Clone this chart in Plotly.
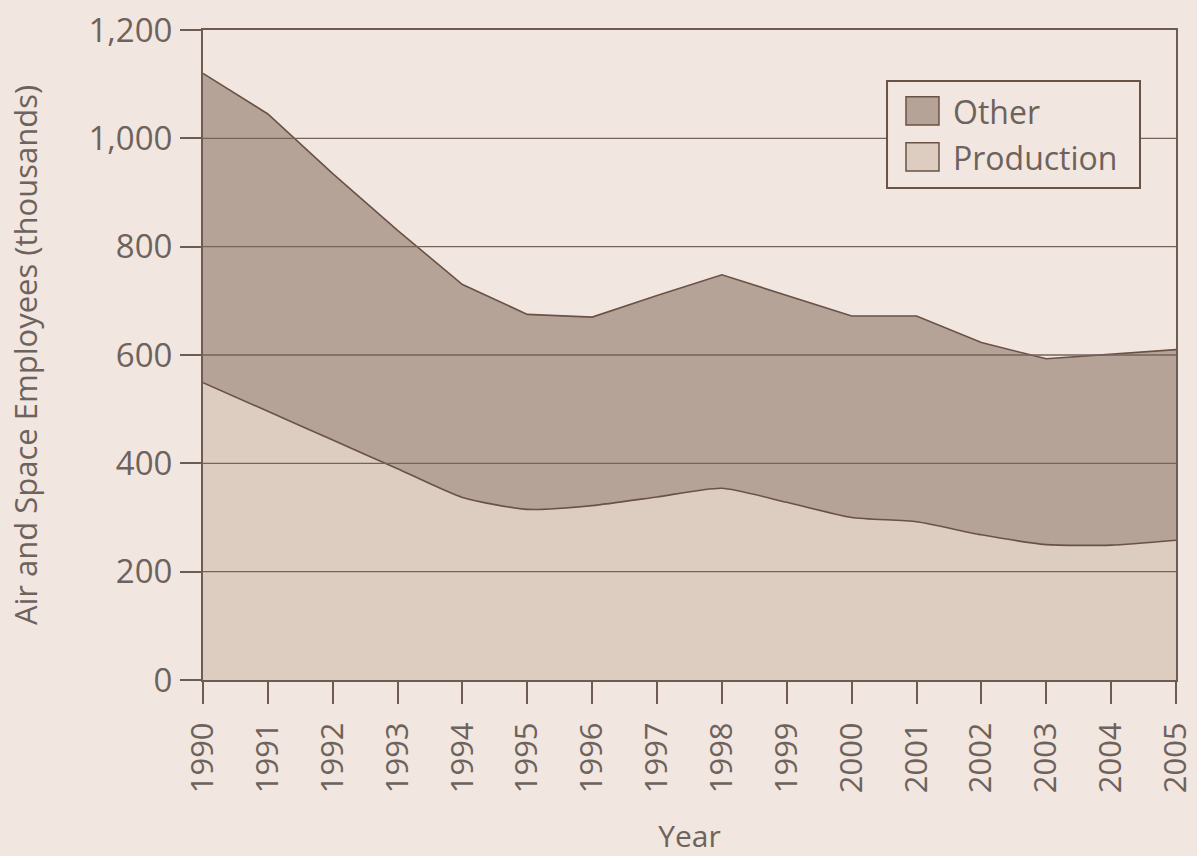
import plotly.graph_objects as go

years = list(range(1990, 2006))
production = [549, 496, 443, 390, 337, 315, 322, 338, 354, 328, 300, 292, 268, 250, 249, 258]
total = [1120, 1045, 935, 830, 730, 675, 670, 710, 748, 710, 672, 672, 623, 593, 601, 610]
y_ticks = [0, 200, 400, 600, 800, 1000, 1200]
y_labels = ["0", "200", "400", "600", "800", "1,000", "1,200"]
legend_names = ["Other", "Production"]

BG = "#f2e6e0"
OTHER = "#b4a396"
PROD = "#ddccc0"
LINE = "#6a5246"
AXIS = "#6e5c52"
TEXT = "#6d625c"
FONT = "Open Sans"

fig = go.Figure()
fig.add_trace(go.Scatter(x=years, y=production, mode="lines", fill="tozeroy",
                         fillcolor=PROD, line=dict(color=LINE, width=1.6, shape="spline", smoothing=0.6),
                         name="Production", showlegend=False, hoverinfo="skip"))
fig.add_trace(go.Scatter(x=years, y=total, mode="lines", fill="tonexty",
                         fillcolor=OTHER, line=dict(color=LINE, width=1.6),
                         name="Other", showlegend=False, hoverinfo="skip"))

for v in y_ticks[1:-1]:
    fig.add_hline(y=v, line=dict(color="#76635a", width=1.3), layer="above")

# legend box (drawn manually for large swatches)
fig.add_shape(type="rect", xref="paper", yref="paper", x0=0.703, x1=0.963, y0=0.757, y1=0.9215,
              fillcolor=BG, line=dict(color=LINE, width=2), layer="above")
sw = [(0.8538, 0.8974, 0.875), (0.7831, 0.8266, 0.8046)]
for (y0, y1, yc), nm, col in zip(sw, legend_names, [OTHER, PROD]):
    fig.add_shape(type="rect", xref="paper", yref="paper", x0=0.7225, x1=0.7564, y0=y0, y1=y1,
                  fillcolor=col, line=dict(color=LINE, width=1.5), layer="above")
    fig.add_annotation(xref="paper", yref="paper", x=0.769, y=yc, text=nm, showarrow=False,
                       xanchor="left", yanchor="middle", font=dict(size=32, color=TEXT, family=FONT))

fig.update_layout(
    width=1197, height=856,
    margin=dict(l=203, r=21, t=30, b=176, autoexpand=False),
    paper_bgcolor=BG, plot_bgcolor=BG,
    font=dict(family=FONT, color=TEXT, size=24),
    showlegend=False,
)
fig.update_xaxes(range=[1990, 2005], tickmode="array", tickvals=years,
                 ticktext=[str(y) for y in years], tickangle=-90,
                 ticks="outside", ticklen=22, tickcolor=AXIS, tickwidth=1.5,
                 ticklabelstandoff=6, automargin=False,
                 showline=True, linecolor=AXIS, linewidth=2, mirror=True,
                 showgrid=False, zeroline=False,
                 tickfont=dict(size=31, color=TEXT),
                 title=dict(text="Year", font=dict(size=30, color=TEXT), standoff=44))
fig.update_yaxes(range=[0, 1200], tickmode="array", tickvals=y_ticks, ticktext=y_labels,
                 ticks="outside", ticklen=21, tickcolor=AXIS, tickwidth=1.5,
                 ticklabelstandoff=1, automargin=False,
                 showline=True, linecolor=AXIS, linewidth=2, mirror=True,
                 showgrid=False, zeroline=False,
                 tickfont=dict(size=33, color=TEXT),
                 title=dict(text="Air and Space Employees (thousands)",
                            font=dict(size=31, color=TEXT), standoff=42))

fig.write_html("out.html", config={"displayModeBar": False},
               post_script="document.body.style.margin='0';")
